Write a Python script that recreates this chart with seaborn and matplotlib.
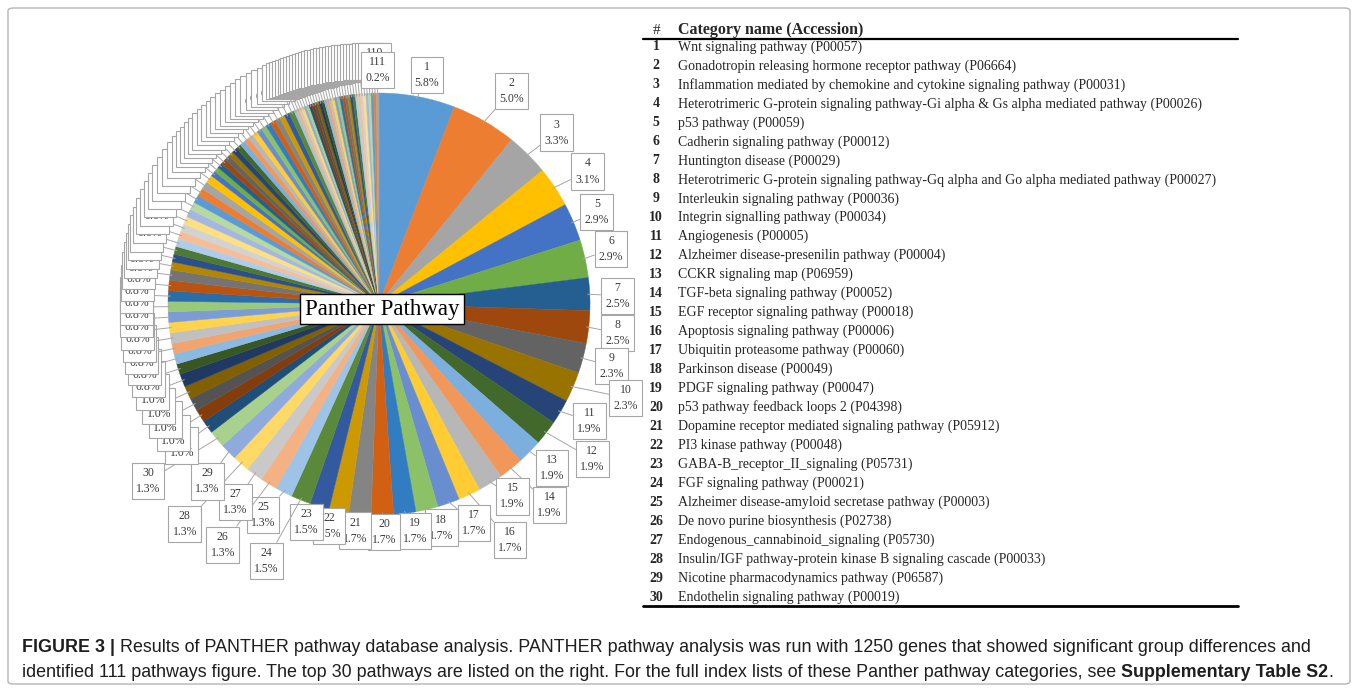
import colorsys
import numpy as np
import matplotlib
matplotlib.use("Agg")
import matplotlib.pyplot as plt
import matplotlib.colors as mcolors
from matplotlib.lines import Line2D
from matplotlib.patches import FancyBboxPatch
import seaborn as sns

# ---------------- data ----------------
top_ids = list(range(1, 31))
top_pct = [5.8, 5.0, 3.3, 3.1, 2.9, 2.9, 2.5, 2.5, 2.3, 2.3,
           1.9, 1.9, 1.9, 1.9, 1.9, 1.7, 1.7, 1.7, 1.7, 1.7,
           1.7, 1.5, 1.5, 1.5, 1.3, 1.3, 1.3, 1.3, 1.3, 1.3]
rest_ids = list(range(31, 112))
rest_pct = [1.0, 1.0, 1.0, 1.0, 1.0,
            0.8, 0.8, 0.8, 0.8, 0.8, 0.8, 0.8, 0.8, 0.8, 0.8,
            0.6, 0.6, 0.6, 0.6, 0.6, 0.6, 0.6, 0.6, 0.6, 0.6, 0.6, 0.6, 0.6,
            0.4, 0.4, 0.4, 0.4, 0.4, 0.4, 0.4, 0.4, 0.4, 0.4,
            0.4, 0.4, 0.4, 0.4, 0.4, 0.4, 0.4, 0.4, 0.4, 0.4,
            0.2, 0.2, 0.2, 0.2, 0.2, 0.2, 0.2, 0.2, 0.2, 0.2, 0.2,
            0.2, 0.2, 0.2, 0.2, 0.2, 0.2, 0.2, 0.2, 0.2, 0.2, 0.2,
            0.2, 0.2, 0.2, 0.2, 0.2, 0.2, 0.2, 0.2, 0.2, 0.2, 0.2]
top_names = [
    "Wnt signaling pathway (P00057)",
    "Gonadotropin releasing hormone receptor pathway (P06664)",
    "Inflammation mediated by chemokine and cytokine signaling pathway (P00031)",
    "Heterotrimeric G-protein signaling pathway-Gi alpha & Gs alpha mediated pathway (P00026)",
    "p53 pathway (P00059)",
    "Cadherin signaling pathway (P00012)",
    "Huntington disease (P00029)",
    "Heterotrimeric G-protein signaling pathway-Gq alpha and Go alpha mediated pathway (P00027)",
    "Interleukin signaling pathway (P00036)",
    "Integrin signalling pathway (P00034)",
    "Angiogenesis (P00005)",
    "Alzheimer disease-presenilin pathway (P00004)",
    "CCKR signaling map (P06959)",
    "TGF-beta signaling pathway (P00052)",
    "EGF receptor signaling pathway (P00018)",
    "Apoptosis signaling pathway (P00006)",
    "Ubiquitin proteasome pathway (P00060)",
    "Parkinson disease (P00049)",
    "PDGF signaling pathway (P00047)",
    "p53 pathway feedback loops 2 (P04398)",
    "Dopamine receptor mediated signaling pathway (P05912)",
    "PI3 kinase pathway (P00048)",
    "GABA-B_receptor_II_signaling (P05731)",
    "FGF signaling pathway (P00021)",
    "Alzheimer disease-amyloid secretase pathway (P00003)",
    "De novo purine biosynthesis (P02738)",
    "Endogenous_cannabinoid_signaling (P05730)",
    "Insulin/IGF pathway-protein kinase B signaling cascade (P00033)",
    "Nicotine pharmacodynamics pathway (P06587)",
    "Endothelin signaling pathway (P00019)",
]
center_label = "Panther Pathway"
header_num = "#"
header_name = "Category name (Accession)"

# ---------------- style ----------------
sns.set_theme(style="white")
plt.rcParams["font.family"] = ["Liberation Serif", "DejaVu Serif"]
SANS = ["Liberation Sans", "DejaVu Sans"]

W, H = 1358, 691
fig = plt.figure(figsize=(W / 100, H / 100), dpi=100)
fig.patch.set_facecolor("white")

ids = top_ids + rest_ids
pct = top_pct + rest_pct

# Office-style colourful palette with luminance variations
accents = ["#5B9BD5", "#ED7D31", "#A5A5A5", "#FFC000", "#4472C4", "#70AD47"]
mods = [(1, 0), (0.6, 0), (0.8, 0.2), (0.8, 0), (0.6, 0.4),
        (0.5, 0), (0.7, 0.3), (0.7, 0), (0.5, 0.5)]


def office_color(i):
    r, g, b = mcolors.to_rgb(accents[i % 6])
    hh, ll, ss = colorsys.rgb_to_hls(r, g, b)
    m, o = mods[(i // 6) % len(mods)]
    ll = min(1.0, ll * m + o)
    return colorsys.hls_to_rgb(hh, ll, ss)


colors = [office_color(i) for i in range(len(pct))]

# pie axes (square in pixels)
cx, cy, R, half = 379, 304, 211, 300
ax = fig.add_axes([(cx - half) / W, (H - cy - half) / H, 2 * half / W, 2 * half / H])
wedges, _ = ax.pie(pct, colors=colors, startangle=90, counterclock=False, radius=1,
                   wedgeprops=dict(linewidth=0.3, edgecolor="white"))
for w, c in zip(wedges, colors):
    w.set_edgecolor(c)
lim = half / R
ax.set_xlim(-lim, lim)
ax.set_ylim(-lim, lim)
ax.set_aspect("equal")
ax.axis("off")

# label placement (radius multipliers and angular nudges, degrees clockwise)
top_label_r = [1.11, 1.19, 1.17, 1.17, 1.12, 1.13, 1.13, 1.14, 1.14, 1.25,
               1.14, 1.25, 1.13, 1.25, 1.11, 1.28, 1.13, 1.10, 1.09, 1.08,
               1.08, 1.08, 1.09, 1.33, 1.14, 1.36, 1.16, 1.39, 1.17, 1.38]
top_label_nudge = [1.4, 2.0, 1.2, 1.2, 0, -0.9, 0.7, 0.6, 0, -2.4,
                   -1.7, -1.6, -1.0, -1.6, -2.9, -3.6, -4.2, -2.4, -2.0, -0.4,
                   0.8, 1.7, 2.0, 1.9, 2.0, 1.5, -0.3, 0.6, -1.5, 2.3]

for k, (w, n, p) in enumerate(zip(wedges, ids, pct)):
    mid = np.deg2rad((w.theta1 + w.theta2) / 2)
    if k < 30:
        rl = top_label_r[k]
        lab = mid - np.deg2rad(top_label_nudge[k])
    elif k == len(pct) - 1:
        rl = 1.11
        lab = mid
    else:
        rl = 1.15
        lab = mid
    ax.annotate(f"{n}\n{p:.1f}%", xy=(0.99 * np.cos(mid), 0.99 * np.sin(mid)),
                xytext=(rl * np.cos(lab), rl * np.sin(lab)),
                ha="center", va="center", fontsize=8.5, linespacing=1.45,
                color="#3A3A3A",
                bbox=dict(boxstyle="square,pad=0.35", fc="white", ec="#A6A6A6", lw=0.8),
                arrowprops=dict(arrowstyle="-", color="#A6A6A6", lw=0.7,
                                shrinkA=0, shrinkB=0),
                zorder=3 + k * 0.01, annotation_clip=False)

ax.text(0.015, -0.025, center_label, fontsize=16.5, ha="center", va="center",
        color="black", zorder=20,
        bbox=dict(boxstyle="square,pad=0.2", fc="white", ec="black", lw=1))

# ---------------- table ----------------
def fx(px):
    return px / W


def fy(py):
    return 1 - py / H


fig.text(fx(657), fy(30), header_num, ha="center", va="center", fontsize=11)
fig.text(fx(678), fy(30), header_name, ha="left", va="center", fontsize=11.5,
         fontweight="bold")
fig.add_artist(Line2D([fx(643), fx(1238)], [fy(38.5)] * 2, color="black", lw=1.6))
row0, dy = 47, 18.97
for i, (n, name) in enumerate(zip(top_ids, top_names)):
    y = fy(row0 + i * dy)
    fig.text(fx(656), y, str(n), ha="center", va="center", fontsize=10,
             fontweight="bold")
    fig.text(fx(678), y, name, ha="left", va="center", fontsize=10)
fig.add_artist(Line2D([fx(643), fx(1238)], [fy(606)] * 2, color="black", lw=2))

# ---------------- frame ----------------
fig.add_artist(FancyBboxPatch((fx(8), fy(684)), (1350 - 8) / W, (684 - 8) / H,
                              boxstyle="round,pad=0,rounding_size=0.004",
                              transform=fig.transFigure, fill=False,
                              ec="#B5B5B5", lw=1))

# ---------------- caption ----------------
renderer = fig.canvas.get_renderer()


def runs(x_px, y_px, parts, size):
    x = x_px
    for txt, weight in parts:
        t = fig.text(fx(x), fy(y_px), txt, fontsize=size, fontweight=weight,
                     family=SANS, va="baseline", ha="left", color="#1E1E1E")
        x += t.get_window_extent(renderer=renderer).width


cap_size = 12.9
runs(22, 652, [("FIGURE 3 |", "bold"),
               (" Results of PANTHER pathway database analysis. PANTHER pathway analysis was run with 1250 genes that showed significant group differences and", "normal")],
     cap_size)
runs(22, 677, [("identified 111 pathways figure. The top 30 pathways are listed on the right. For the full index lists of these Panther pathway categories, see ", "normal"),
               ("Supplementary Table S2", "bold"), (".", "normal")], cap_size)

fig.savefig("out.png", dpi=100, facecolor="white")
